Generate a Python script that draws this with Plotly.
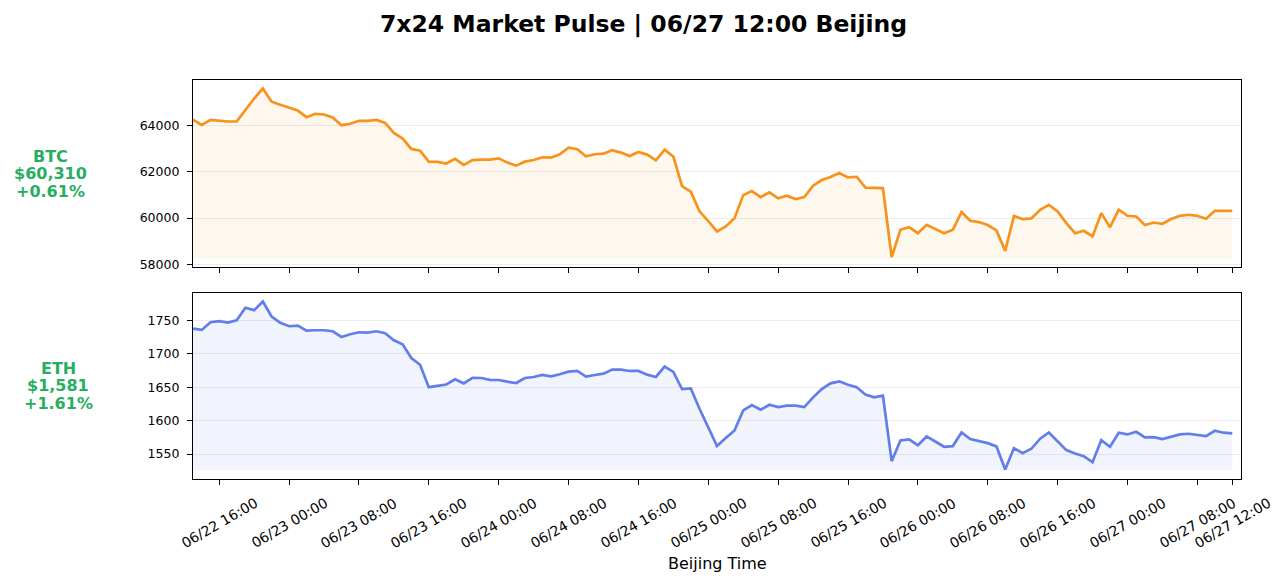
import pandas as pd
import plotly.graph_objects as go
from plotly.subplots import make_subplots

# hourly closes, Beijing time, 06/22 13:00 -> 06/27 12:00
start_time = '2024-06-22 13:00'

btc = [64240, 64015, 64230, 64190, 64160, 64160, 64680, 65150, 65580, 65010,
       64880, 64760, 64630, 64345, 64490, 64460, 64330, 64000, 64060, 64190,
       64190, 64230, 64100, 63670, 63425, 62980, 62905, 62430, 62420, 62350,
       62550, 62290, 62500, 62520, 62520, 62575, 62390, 62260, 62430, 62500,
       62620, 62600, 62750, 63035, 62965, 62660, 62750, 62775, 62920, 62820,
       62675, 62850, 62735, 62490, 62950, 62650, 61380, 61140, 60290, 59870,
       59425, 59640, 59990, 60990, 61165, 60905, 61110, 60850, 60965, 60820,
       60905, 61395, 61640, 61770, 61940, 61755, 61780, 61310, 61310, 61295,
       58320, 59500, 59610, 59350, 59710, 59540, 59350, 59500, 60260, 59885,
       59830, 59700, 59470, 58590, 60090, 59960, 59990, 60360, 60575, 60290,
       59785, 59350, 59455, 59210, 60215, 59610, 60360, 60100, 60070, 59700,
       59810, 59755, 59960, 60100, 60145, 60100, 59970, 60315, 60310, 60310]

eth = [1737.5, 1735.5, 1747, 1748.5, 1746.5, 1750, 1768.5, 1765, 1778, 1755.5,
       1746, 1741, 1742, 1734.5, 1735, 1735, 1733.5, 1725, 1729, 1732,
       1731.5, 1733.5, 1730.5, 1720, 1714, 1693.5, 1683.5, 1650, 1652, 1654,
       1661.7, 1655.7, 1664, 1663.7, 1661, 1660.7, 1658.2, 1656.2, 1663.7, 1665.2,
       1668.2, 1666.2, 1669.2, 1673.2, 1674.2, 1665.7, 1668.2, 1670.2, 1676.2, 1676.2,
       1674.2, 1674.2, 1668.7, 1665.2, 1680.7, 1672.7, 1647.2, 1648.2, 1617.8, 1590.4,
       1562, 1574, 1585.4, 1615.3, 1623.3, 1616.3, 1623.8, 1620.3, 1622.3, 1622.3,
       1620.3, 1634.8, 1647.2, 1655.7, 1658.7, 1653.7, 1650, 1638.8, 1634.8, 1637.3,
       1539.5, 1570.4, 1571.9, 1563.4, 1576.4, 1568.9, 1561, 1562, 1582.4, 1572.4,
       1569.4, 1566.4, 1561.5, 1527, 1559, 1551.5, 1558, 1573, 1582.4, 1569.4,
       1556, 1551, 1547, 1538, 1571, 1561, 1582, 1579.4, 1583.4, 1574.9,
       1575.4, 1572.4, 1576.4, 1579.4, 1580.4, 1578.4, 1576.9, 1584.9, 1582, 1581]

coins = ['BTC', 'ETH']
prices = ['$60,310', '$1,581']
changes = ['+0.61%', '+1.61%']
line_colors = ['#f7931a', '#627eea']
fill_colors = ['rgba(247,147,26,0.08)', 'rgba(98,126,234,0.09)']
y_dticks = [2000, 50]

tick_times = ['2024-06-22 16:00', '2024-06-23 00:00', '2024-06-23 08:00', '2024-06-23 16:00',
              '2024-06-24 00:00', '2024-06-24 08:00', '2024-06-24 16:00', '2024-06-25 00:00',
              '2024-06-25 08:00', '2024-06-25 16:00', '2024-06-26 00:00', '2024-06-26 08:00',
              '2024-06-26 16:00', '2024-06-27 00:00', '2024-06-27 08:00', '2024-06-27 12:00']
tick_labels = ['06/22 16:00', '06/23 00:00', '06/23 08:00', '06/23 16:00',
               '06/24 00:00', '06/24 08:00', '06/24 16:00', '06/25 00:00',
               '06/25 08:00', '06/25 16:00', '06/26 00:00', '06/26 08:00',
               '06/26 16:00', '06/27 00:00', '06/27 08:00', '06/27 12:00']

times = pd.date_range(start_time, periods=len(btc), freq='h')
x_end = times[-1] + pd.Timedelta(hours=1)

# the page body adds 8px, so the figure is drawn 8px smaller and shifted
off = 8
W, H = 1287 - off, 583 - off
L, R, T, B = 193 - off, 46, 80 - off, 104
plot_w = W - L - R
plot_h = H - T - B
gap = 26
top_h = 187

font = 'DejaVu Sans'
green = '#27ae60'


def px_y(y):
    # reference pixel row -> paper y
    return 1 - (y - off - T) / plot_h


def px_x(x):
    return (x - off - L) / plot_w


fig = make_subplots(rows=2, cols=1, shared_xaxes=True)

series = [btc, eth]
for i, vals in enumerate(series):
    row = i + 1
    base = min(vals) * 0.999
    fig.add_trace(go.Scatter(x=times, y=[base] * len(vals), mode='lines',
                             line=dict(width=0, color='rgba(0,0,0,0)'),
                             showlegend=False, hoverinfo='skip'), row=row, col=1)
    fig.add_trace(go.Scatter(x=times, y=vals, mode='lines', fill='tonexty',
                             fillcolor=fill_colors[i],
                             line=dict(color=line_colors[i], width=2.7),
                             name=coins[i], showlegend=False), row=row, col=1)
    lo, hi = base, max(vals)
    pad = (hi - lo) * 0.05
    fig.update_yaxes(range=[lo - pad, hi + pad], dtick=y_dticks[i], row=row, col=1)

fig.update_xaxes(range=[times[0], x_end], tickvals=tick_times, showticklabels=False,
                 ticks='outside', ticklen=5, tickcolor='black',
                 showgrid=False, showline=True, mirror=True, linecolor='black',
                 linewidth=1.2, zeroline=False)
fig.update_yaxes(ticks='outside', ticklen=5, tickcolor='black', showgrid=True,
                 gridcolor='#ececec', gridwidth=1, showline=True, mirror=True,
                 linecolor='black', linewidth=1.2, zeroline=False, tickformat='d',
                 ticklabelstandoff=5,
                 tickfont=dict(family=font, size=12.5, color='black'))

fig.update_layout(
    yaxis=dict(domain=[1 - top_h / plot_h, 1]),
    yaxis2=dict(domain=[0, 1 - (top_h + gap) / plot_h]),
)

annotations = []

# rotated time labels, centred under each tick
for t, lab in zip(tick_times, tick_labels):
    annotations.append(dict(
        text=lab, xref='x2', yref='paper', x=t, y=px_y(523),
        xanchor='center', yanchor='middle', textangle=-30, showarrow=False,
        font=dict(family=font, size=14, color='black')))

# coin labels on the left
label_x = [50, 58]
label_y = [173.5, 385.5]
for i in range(len(coins)):
    for k, txt in enumerate([coins[i], prices[i], changes[i]]):
        annotations.append(dict(
            text=txt, xref='paper', yref='paper',
            x=px_x(label_x[i]), y=px_y(label_y[i] + (k - 1) * 17.5),
            xanchor='center', yanchor='middle', showarrow=False,
            font=dict(family=font, size=16, color=green, weight='bold')))

annotations.append(dict(
    text='Beijing Time', xref='paper', yref='paper', x=px_x(717),
    y=px_y(563), xanchor='center', yanchor='middle',
    showarrow=False, font=dict(family=font, size=16, color='black')))

fig.update_layout(
    width=W, height=H,
    margin=dict(l=L, r=R, t=T, b=B),
    paper_bgcolor='white', plot_bgcolor='white',
    title=dict(text='7x24 Market Pulse | 06/27 12:00 Beijing',
               x=(643.5 - off) / W, xref='container', xanchor='center',
               y=1 - (24 - off) / H, yref='container', yanchor='middle',
               font=dict(family=font, size=23.5, color='black', weight='bold')),
    annotations=annotations,
    font=dict(family=font),
    hovermode='x unified',
)

fig.write_html('out.html')
